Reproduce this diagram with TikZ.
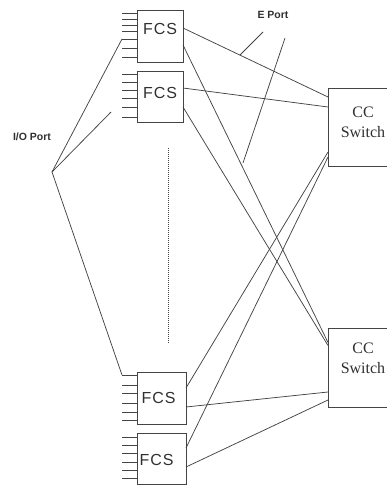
\documentclass[tikz,border=0pt]{standalone}
\usepackage{fontspec}
\newfontfamily\lsans{Liberation Sans}
\newfontfamily\lsansw[LetterSpace=6]{Liberation Sans}
\newfontfamily\lserif{Liberation Serif}
\usetikzlibrary{calc}
\definecolor{ink}{HTML}{444444}
\tikzset{
  wire/.style={draw=ink, line width=0.75pt},
  fcsbox/.style={draw=ink, line width=0.9pt, inner sep=0pt, outer sep=0pt},
  ccbox/.style={draw=ink, line width=0.9pt, inner sep=0pt, outer sep=0pt,
                minimum width=70pt},
  fcstext/.style={font=\lsansw\fontsize{16}{16}\selectfont, text=ink!70!black, inner sep=0pt},
  cctext/.style={font=\lserif\fontsize{16}{20}\selectfont, text=ink!70!black,
                 align=center, inner sep=0pt},
  tag/.style={font=\lsans\bfseries\fontsize{10.5}{12}\selectfont, text=ink!70!black, inner sep=0pt}
}
\begin{document}
\begin{tikzpicture}[x=1pt,y=-1pt]
\useasboundingbox (0,0) rectangle (387,485);
\begin{scope}
\clip (0,0) rectangle (387,485);

% FCS boxes
\node[fcsbox, minimum width=46pt, minimum height=52pt] (f1) at (160,36) {};
\node[fcsbox, minimum width=46pt, minimum height=51pt] (f2) at (160,96.5) {};
\node[fcsbox, minimum width=49pt, minimum height=52pt] (f3) at (161.5,398) {};
\node[fcsbox, minimum width=49pt, minimum height=51pt] (f4) at (161.5,458.5) {};
\node[fcstext] (f1t) at (160,29) {FCS};
\node[fcstext] (f2t) at (160,92.5) {FCS};
\node[fcstext] (f3t) at (158.5,397.5) {FCS};
\node[fcstext] (f4t) at (156.5,460) {FCS};

% CC switches (right edge runs past the page)
\node[ccbox, minimum height=78pt] (s1) at (363,127) {};
\node[ccbox, minimum height=79pt] (s2) at (363,367.5) {};
\node[cctext] (s1t) at (363,122) {CC\\Switch};
\node[cctext] (s2t) at (363,358) {CC\\Switch};

% port stubs on the left of each FCS
\foreach \y in {13,19,25,31,39,48,57}
  \draw[wire] (f1.west |- 0,\y) -- ++(-15,0);
\foreach \y in {74,82,90,98,107,117}
  \draw[wire] (f2.west |- 0,\y) -- ++(-15,0);
\foreach \y in {375,385,393,403,412,420}
  \draw[wire] (f3.west |- 0,\y) -- ++(-15,0);
\foreach \y in {437,445,453,462,470,478}
  \draw[wire] (f4.west |- 0,\y) -- ++(-15,0);

% I/O port callout
\node[tag] (io) at (32,137) {I/O Port};
\coordinate (iox) at (52,172);
\coordinate (io1) at (122,39);
\coordinate (io2) at (111,112);
\coordinate (io3) at (122,375);
\draw[wire] (io1) -- (iox) -- (io3);
\draw[wire] (iox) -- (io2);

% links from FCS to CC switches
\draw[wire] ($(f1.east)+(0,-8)$) -- ($(s1.west)+(0,-30)$);
\draw[wire] ($(f1.east)+(0,9)$) -- ($(s2.west)+(0,-25)$);
\draw[wire] ($(f2.east)+(0,-8.5)$) -- ($(s1.west)+(0,-20)$);
\draw[wire] ($(f2.east)+(0,10.5)$) -- ($(s2.west)+(0,-22)$);
\draw[wire] ($(f3.east)+(0,-10)$) -- ($(s1.west)+(0,25)$);
\draw[wire] ($(f3.east)+(0,9)$) -- ($(s2.west)+(0,24.5)$);
\draw[wire] ($(f4.east)+(0,-10.5)$) -- ($(s1.west)+(0,30)$);
\draw[wire] ($(f4.east)+(0,8.5)$) -- ($(s2.west)+(0,32.5)$);

% E port callout
\node[tag] (ep) at (273,15) {E Port};
\coordinate (ep1a) at (263,32);
\coordinate (ep1b) at (240,55);
\coordinate (ep2a) at (285,38);
\coordinate (ep2b) at (243,163);
\draw[wire] (ep1a) -- (ep1b);
\draw[wire] (ep2a) -- (ep2b);

% elided FCS units
\coordinate (dt) at (168,148);
\coordinate (db) at (168,343);
\draw[draw=ink, line width=0.8pt, dash pattern=on 0.9pt off 1.1pt] (dt) -- (db);
\end{scope}
\end{tikzpicture}
\end{document}
